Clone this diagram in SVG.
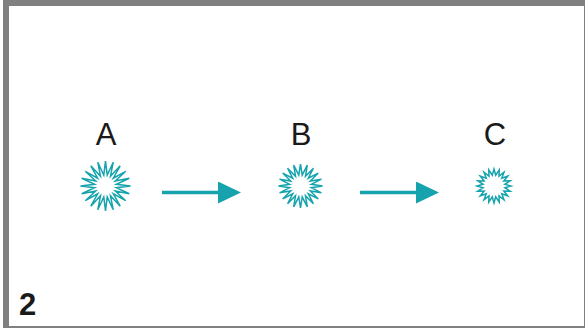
<svg xmlns="http://www.w3.org/2000/svg" width="585" height="328" viewBox="0 0 585 328">
<style>
.frame{fill:#ffffff;stroke:#808080;stroke-width:6}
.star{fill:none;stroke:#16a3ad;stroke-width:1.5;stroke-linejoin:miter}
.lbl{font-family:"Liberation Sans",Arial,sans-serif;font-size:31px;fill:#1a1a1a;text-anchor:middle}
.num{font-family:"Liberation Sans",Arial,sans-serif;font-size:31px;font-weight:bold;fill:#1a1a1a}
.arr{stroke:#16a3ad;stroke-width:3.6;fill:none}
</style>
<defs>
<marker id="head" markerUnits="userSpaceOnUse" markerWidth="24" markerHeight="23" refX="7" refY="11" orient="auto">
<path d="M0,0 L23,11 L0,22 Z" fill="#16a3ad"/>
</marker>
</defs>
<rect class="frame" x="6" y="3" width="581" height="326"/>
<g id="nodeA">
<text class="lbl" x="106" y="145">A</text>
<polygon class="star" transform="translate(105.5,186)" points="25,0 10.86,1.72 23.78,7.73 9.80,4.99 20.23,14.69 7.78,7.78 14.69,20.23 4.99,9.80 7.73,23.78 1.72,10.86 0,25 -1.72,10.86 -7.73,23.78 -4.99,9.80 -14.69,20.23 -7.78,7.78 -20.23,14.69 -9.80,4.99 -23.78,7.73 -10.86,1.72 -25,0 -10.86,-1.72 -23.78,-7.73 -9.80,-4.99 -20.23,-14.69 -7.78,-7.78 -14.69,-20.23 -4.99,-9.80 -7.73,-23.78 -1.72,-10.86 0,-25 1.72,-10.86 7.73,-23.78 4.99,-9.80 14.69,-20.23 7.78,-7.78 20.23,-14.69 9.80,-4.99 23.78,-7.73 10.86,-1.72"/>
</g>
<g id="nodeB">
<text class="lbl" x="301" y="145">B</text>
<polygon class="star" transform="translate(300.5,186)" points="22,0 10.86,1.72 20.92,6.80 9.80,4.99 17.80,12.93 7.78,7.78 12.93,17.80 4.99,9.80 6.80,20.92 1.72,10.86 0,22 -1.72,10.86 -6.80,20.92 -4.99,9.80 -12.93,17.80 -7.78,7.78 -17.80,12.93 -9.80,4.99 -20.92,6.80 -10.86,1.72 -22,0 -10.86,-1.72 -20.92,-6.80 -9.80,-4.99 -17.80,-12.93 -7.78,-7.78 -12.93,-17.80 -4.99,-9.80 -6.80,-20.92 -1.72,-10.86 0,-22 1.72,-10.86 6.80,-20.92 4.99,-9.80 12.93,-17.80 7.78,-7.78 17.80,-12.93 9.80,-4.99 20.92,-6.80 10.86,-1.72"/>
</g>
<g id="nodeC">
<text class="lbl" x="495" y="145">C</text>
<polygon class="star" transform="translate(494,186)" points="17,0 10.86,1.72 16.17,5.25 9.80,4.99 13.75,9.99 7.78,7.78 9.99,13.75 4.99,9.80 5.25,16.17 1.72,10.86 0,17 -1.72,10.86 -5.25,16.17 -4.99,9.80 -9.99,13.75 -7.78,7.78 -13.75,9.99 -9.80,4.99 -16.17,5.25 -10.86,1.72 -17,0 -10.86,-1.72 -16.17,-5.25 -9.80,-4.99 -13.75,-9.99 -7.78,-7.78 -9.99,-13.75 -4.99,-9.80 -5.25,-16.17 -1.72,-10.86 0,-17 1.72,-10.86 5.25,-16.17 4.99,-9.80 9.99,-13.75 7.78,-7.78 13.75,-9.99 9.80,-4.99 16.17,-5.25 10.86,-1.72"/>
</g>
<g id="connectors">
<line class="arr" x1="162" y1="192.5" x2="225" y2="192.5" marker-end="url(#head)"/>
<line class="arr" x1="360" y1="192.5" x2="423" y2="192.5" marker-end="url(#head)"/>
</g>
<text class="num" x="19" y="315">2</text>
</svg>
